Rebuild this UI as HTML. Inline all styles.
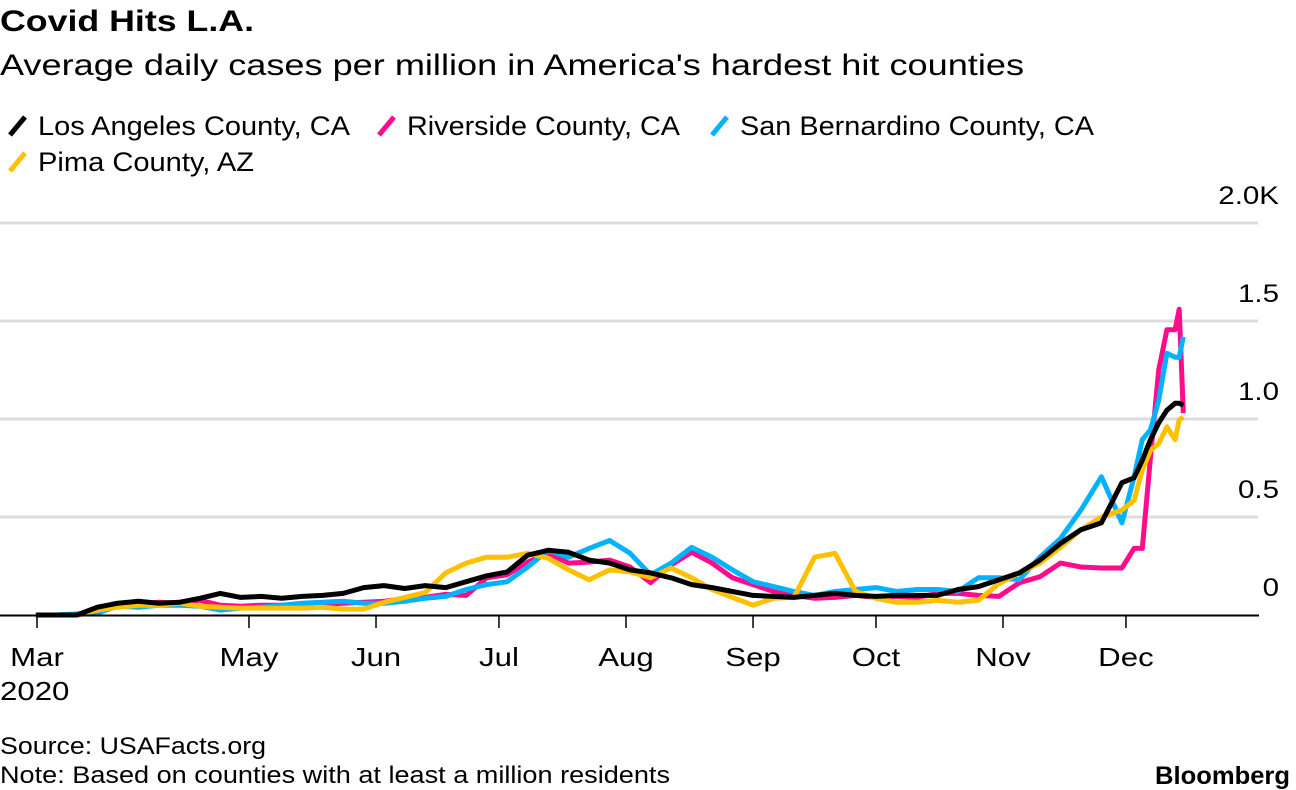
<!DOCTYPE html>
<html><head><meta charset="utf-8">
<style>
body{margin:0;background:#fff;width:1296px;height:790px;overflow:hidden;font-family:"Liberation Sans",sans-serif;}
svg{position:absolute;left:0;top:0}
</style></head>
<body>
<svg width="1296" height="790">
<text x="0" y="31" font-size="30" font-weight="bold" textLength="254" lengthAdjust="spacingAndGlyphs">Covid Hits L.A.</text>
<text x="0" y="75" font-size="30" textLength="1024" lengthAdjust="spacingAndGlyphs">Average daily cases per million in America's hardest hit counties</text>
<g id="legend"></g>
<g id="grid"></g>
<g id="series"></g>
<g id="axis"></g>
<text x="0" y="754" font-size="24" textLength="266" lengthAdjust="spacingAndGlyphs">Source: USAFacts.org</text>
<text x="0" y="783" font-size="24" textLength="670" lengthAdjust="spacingAndGlyphs">Note: Based on counties with at least a million residents</text>
<text x="1155" y="784" font-size="25" font-weight="bold" textLength="135" lengthAdjust="spacingAndGlyphs">Bloomberg</text>
</svg>
<script>
const days=[9,14,19,24,29,34,39,44,49,54,59,64,69,74,79,84,89,94,99,104,109,114,119,124,129,134,139,144,149,154,159,164,169,174,179,184,189,194,199,204,209,214,219,224,229,234,239,244,249,254,259,264,269,274,277,279,281,283,285,287,288,289];
const laValues=[0,0,0,40,60,70,60,65,85,110,90,95,85,95,100,110,140,150,135,150,140,170,200,220,305,330,320,280,265,230,215,190,155,140,120,100,95,90,100,110,100,95,100,100,100,130,145,180,215,280,365,435,470,675,700,790,895,980,1045,1080,1080,1070];
const riversideValues=[0,0,0,20,45,55,65,60,75,50,45,50,50,50,55,60,65,70,85,90,105,100,190,205,270,315,265,270,280,245,165,255,320,265,190,155,120,100,85,90,100,90,95,90,110,110,100,95,165,195,265,245,240,240,340,340,805,1250,1455,1455,1560,1030];
const sbValues=[0,0,5,10,45,40,50,50,45,25,35,40,50,60,65,70,60,60,70,85,95,130,155,170,245,330,295,340,380,315,205,265,345,295,230,170,145,120,100,120,130,140,120,130,130,120,190,190,180,295,390,535,705,470,705,895,945,1095,1335,1315,1315,1420];
const pimaValues=[0,0,0,25,40,50,50,60,45,40,35,35,35,35,40,30,30,65,90,115,215,265,295,295,315,290,230,180,230,220,190,240,190,130,90,50,85,90,295,315,120,85,65,65,75,65,75,160,215,265,345,435,500,535,585,740,840,875,960,895,995,1010];
const seriesNames=["Los Angeles County, CA","Riverside County, CA","San Bernardino County, CA","Pima County, AZ"];
const seriesColors=["#000000","#ff0b8b","#00b2ff","#ffc000"];
const yTicks=[0,500,1000,1500,2000];
const yTickLabels=["0","0.5","1.0","1.5","2.0K"];
const monthDays=[9,61,92,122,153,184,214,245,275];
const monthLabels=["Mar","May","Jun","Jul","Aug","Sep","Oct","Nov","Dec"];

const NS="http://www.w3.org/2000/svg";
function xS(d){return -1+4.098*d;}
function yS(v){return 615-v*0.196;}
function mk(tag,attrs,parent){const e=document.createElementNS(NS,tag);for(const k in attrs)e.setAttribute(k,attrs[k]);parent.appendChild(e);return e;}
function widen(t,f){const w=t.getComputedTextLength();t.setAttribute('textLength',(w*f).toFixed(1));t.setAttribute('lengthAdjust','spacingAndGlyphs');}

const grid=document.getElementById('grid');
yTicks.forEach((t,i)=>{
  if(t>0){const l=mk('line',{x1:0,x2:1258,y1:yS(t),y2:yS(t),stroke:'#dcdcdc','stroke-width':3},grid);
  
  }
  const tx=mk('text',{x:1279,y:yS(t)-19,'font-size':25,'text-anchor':'end'},grid);
  tx.textContent=yTickLabels[i];
  
  
  widen(tx,1.18);
});

const ser=document.getElementById('series');
const allVals=[laValues,riversideValues,sbValues,pimaValues];
[1,2,3,0].forEach(i=>{
  const vals=allVals[i];
  const pts=vals.map((v,k)=>xS(days[k]).toFixed(1)+','+yS(v).toFixed(1)).join(' ');
  const p=mk('polyline',{points:pts,fill:'none',stroke:seriesColors[i],'stroke-width':5,'stroke-linejoin':'round'},ser);
  
  
});

const ax=document.getElementById('axis');
const base=mk('line',{x1:0,x2:1259,y1:615.5,y2:615.5,stroke:'#000','stroke-width':2},ax);


monthDays.forEach((d,i)=>{
  const x=i===0?37:xS(d);
  const t=mk('line',{x1:x,x2:x,y1:616,y2:628,stroke:'#000','stroke-width':1.5},ax);
  
  
  const tx=mk('text',{x:x,y:666,'font-size':26,'text-anchor':'middle'},ax);
  tx.textContent=monthLabels[i];
  
  
  widen(tx,1.2);
});
const yr=mk('text',{x:0,y:700,'font-size':26},ax);
yr.textContent='2020';


widen(yr,1.2);

const lg=document.getElementById('legend');
const lpos=[[7,125],[376,125],[709,125],[7,161]];
const lw=[312,273,354,216];
seriesNames.forEach((n,i)=>{
  const [x,y]=lpos[i];
  const g=mk('g',{},lg);
  
  
  mk('line',{x1:x+3,y1:y+10,x2:x+18,y2:y-8,stroke:seriesColors[i],'stroke-width':5},g);
  const t=mk('text',{x:x+31,y:y+10,'font-size':27,textLength:lw[i],lengthAdjust:'spacingAndGlyphs'},g);
  t.textContent=n;
});
</script>
</body></html>
